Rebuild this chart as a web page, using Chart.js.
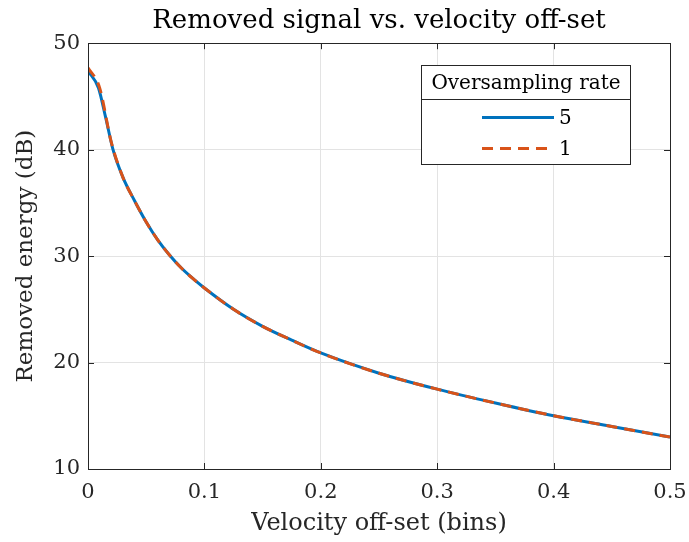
<!DOCTYPE html>
<html>
<head>
<meta charset="utf-8">
<script src="https://cdn.jsdelivr.net/npm/chart.js@4.4.1/dist/chart.umd.min.js"></script>
<style>
  html, body { margin: 0; padding: 0; background: #fff; }
  #wrap { width: 689px; height: 542px; }
</style>
</head>
<body>
<div id="wrap"><canvas id="chart" width="689" height="542"></canvas></div>
<script>
// removed energy (dB) vs velocity off-set (bins)
const offsetOs5 = [0, 0.009, 0.015, 0.0215, 0.03, 0.04, 0.05, 0.06, 0.07, 0.08, 0.09, 0.1, 0.125, 0.15, 0.175, 0.2, 0.25, 0.3, 0.35, 0.4, 0.45, 0.5];
const energyOs5 = [47.4, 45.8, 43.1, 40.0, 37.4, 35.2, 33.2, 31.5, 30.1, 28.9, 27.9, 27.0, 25.0, 23.4, 22.1, 20.9, 19.0, 17.5, 16.2, 15.0, 14.0, 13.0];
const offsetOs1 = [0, 0.01, 0.02, 0.03, 0.04, 0.05, 0.06, 0.07, 0.08, 0.09, 0.1, 0.125, 0.15, 0.175, 0.2, 0.25, 0.3, 0.35, 0.4, 0.45, 0.5];
const energyOs1 = [47.7, 45.8, 40.7, 37.4, 35.2, 33.2, 31.5, 30.1, 28.9, 27.9, 27.0, 25.0, 23.4, 22.1, 20.9, 19.0, 17.5, 16.2, 15.0, 14.0, 13.0];
const legendTitle = "Oversampling rate";
const seriesNames = ["5", "1"];
const xTicks = [0, 0.1, 0.2, 0.3, 0.4, 0.5];
const yTicks = [10, 20, 30, 40, 50];

const serif = "'DejaVu Serif', serif";
const blue = "#0072BD", orange = "#D95319";

const pts = (xs, ys) => xs.map((x, i) => ({ x: x, y: ys[i] }));

// box, inward ticks and the legend, drawn like matlab does
const matlabBits = {
  id: "matlabBits",
  afterDatasetsDraw(chart) {
    const { ctx, chartArea: a, scales } = chart;
    ctx.save();
    ctx.strokeStyle = "#262626";
    ctx.lineWidth = 1;
    ctx.beginPath();
    xTicks.forEach((v) => {
      const px = Math.round(scales.x.getPixelForValue(v)) + 0.5;
      ctx.moveTo(px, a.bottom); ctx.lineTo(px, a.bottom - 6);
      ctx.moveTo(px, a.top); ctx.lineTo(px, a.top + 6);
    });
    yTicks.forEach((v) => {
      const py = Math.round(scales.y.getPixelForValue(v)) + 0.5;
      ctx.moveTo(a.left, py); ctx.lineTo(a.left + 6, py);
      ctx.moveTo(a.right, py); ctx.lineTo(a.right - 6, py);
    });
    ctx.stroke();
    ctx.strokeRect(Math.round(a.left) + 0.5, Math.round(a.top) + 0.5, Math.round(a.right - a.left), Math.round(a.bottom - a.top));

    // legend
    const lx = 421.5, ly = 65.5, lw = 209, lh = 99, split = 34;
    ctx.fillStyle = "#fff";
    ctx.fillRect(lx, ly, lw, lh);
    ctx.strokeRect(lx, ly, lw, lh);
    ctx.beginPath();
    ctx.moveTo(lx, ly + split); ctx.lineTo(lx + lw, ly + split);
    ctx.stroke();
    ctx.fillStyle = "#000";
    ctx.font = "20px " + serif;
    ctx.textAlign = "center";
    ctx.textBaseline = "middle";
    ctx.fillText(legendTitle, lx + lw / 2, ly + split / 2 + 1);
    ctx.textAlign = "left";
    chart.data.datasets.forEach((ds, i) => {
      const yy = ly + split + 18 + i * 31;
      ctx.strokeStyle = ds.borderColor;
      ctx.lineWidth = 3;
      ctx.setLineDash(ds.borderDash || []);
      ctx.beginPath();
      ctx.moveTo(482, yy); ctx.lineTo(554, yy);
      ctx.stroke();
      ctx.setLineDash([]);
      ctx.fillText(seriesNames[i], 559, yy + 1);
    });
    ctx.restore();
  }
};

new Chart(document.getElementById("chart"), {
  type: "line",
  data: {
    datasets: [
      // order: the dashed one has to sit on top of the solid one
      { label: seriesNames[0], data: pts(offsetOs5, energyOs5), borderColor: blue, borderWidth: 3, pointRadius: 0, cubicInterpolationMode: "monotone", order: 2 },
      { label: seriesNames[1], data: pts(offsetOs1, energyOs1), borderColor: orange, borderWidth: 3, borderDash: [11, 7], pointRadius: 0, cubicInterpolationMode: "monotone", order: 1 }
    ]
  },
  options: {
    responsive: false,
    animation: false,
    layout: { padding: { top: 0, right: 19, left: 0, bottom: 0 } },
    plugins: {
      legend: { display: false },
      tooltip: { enabled: false },
      title: {
        display: true,
        fullSize: false,
        text: "Removed signal vs. velocity off-set",
        color: "#000",
        font: { family: serif, size: 26, weight: "normal" },
        padding: { top: 6, bottom: 6 }
      }
    },
    scales: {
      x: {
        type: "linear", min: 0, max: 0.5,
        afterBuildTicks: (s) => { s.ticks = xTicks.map((v) => ({ value: v })); },
        afterFit: (s) => { s.height = 73; s.paddingLeft = 0; s.paddingRight = 0; },
        grid: { color: "#e3e3e3", drawTicks: false, drawOnChartArea: true },
        border: { display: false },
        ticks: { color: "#262626", padding: 11, font: { family: serif, size: 21 }, maxRotation: 0, callback: (v) => String(v) },
        title: { display: true, text: "Velocity off-set (bins)", color: "#262626", font: { family: serif, size: 24 }, padding: { top: 0 } }
      },
      y: {
        min: 10, max: 50,
        afterBuildTicks: (s) => { s.ticks = yTicks.map((v) => ({ value: v })); },
        afterFit: (s) => { s.width = 88; },
        grid: { color: "#e3e3e3", drawTicks: false },
        border: { display: false },
        ticks: { color: "#262626", padding: 8, font: { family: serif, size: 21 } },
        title: { display: true, text: "Removed energy (dB)", color: "#262626", font: { family: serif, size: 23 }, padding: { top: 12, bottom: 2 } }
      }
    }
  },
  plugins: [matlabBits]
});
</script>
</body>
</html>
